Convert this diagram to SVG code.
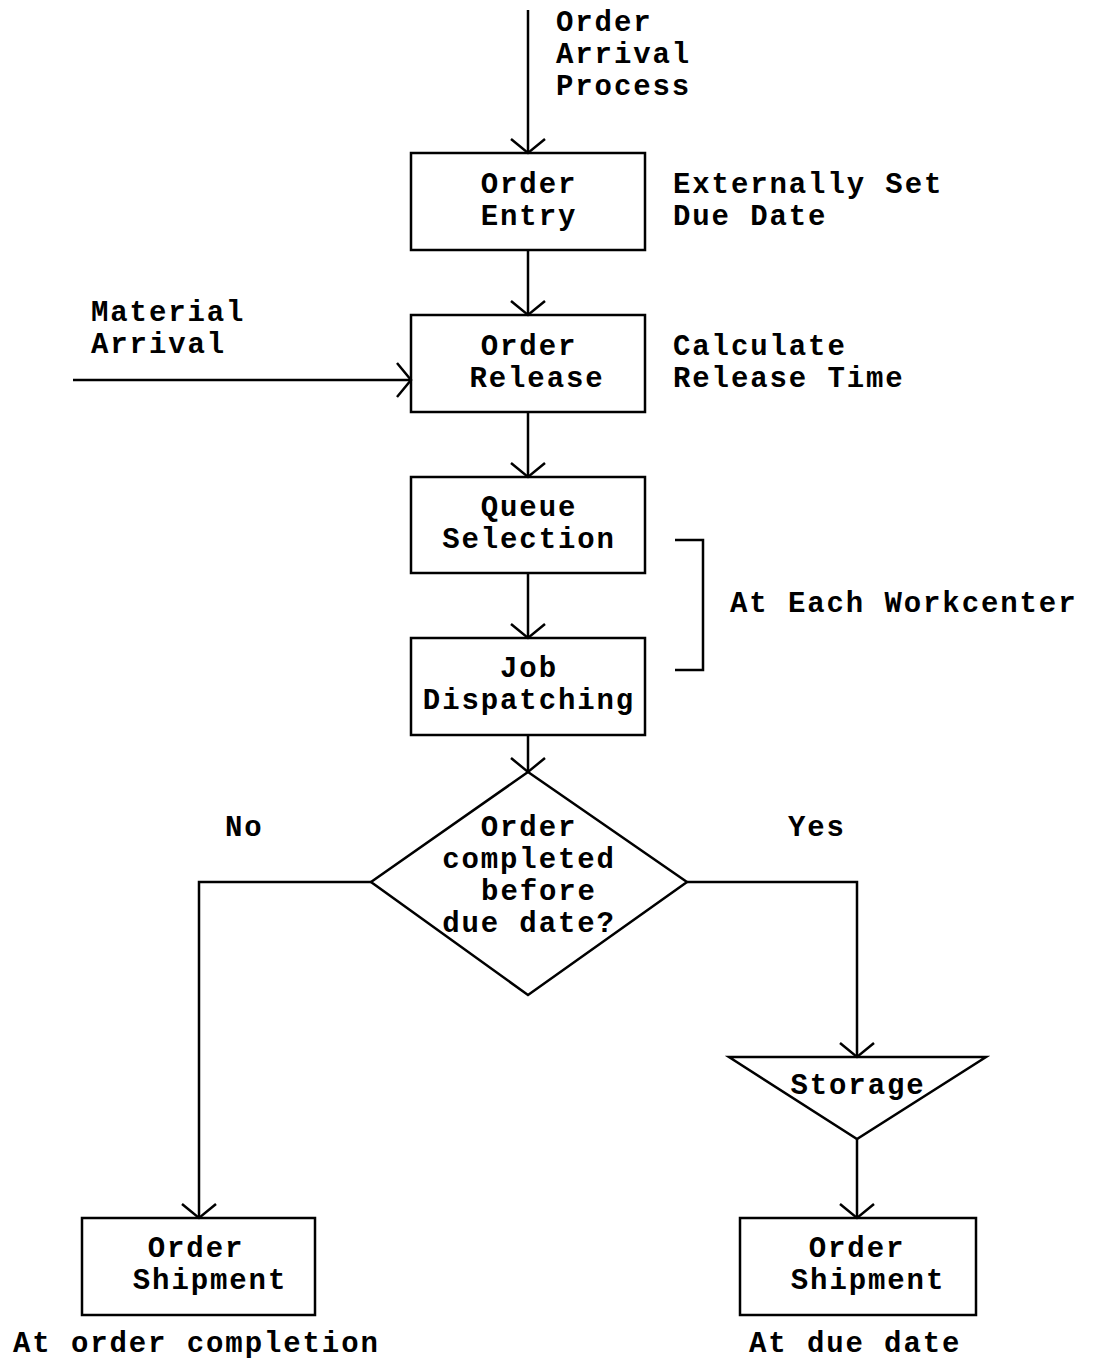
<svg xmlns="http://www.w3.org/2000/svg" width="1095" height="1359" viewBox="0 0 1095 1359">
<style>
.t{font-family:"Liberation Mono","Courier New",monospace;font-weight:bold;font-size:29px;letter-spacing:1.9px;fill:#000}
.c{text-anchor:middle}
.s{fill:none;stroke:#000;stroke-width:2.5}
</style>
<defs>
<marker id="ah" markerUnits="userSpaceOnUse" markerWidth="40" markerHeight="40" refX="0" refY="0" viewBox="-20 -20 40 40" orient="auto" overflow="visible">
<path d="M-14,-17 L0,0 L-14,17" fill="none" stroke="#000" stroke-width="2.5"/>
</marker>
</defs>
<rect width="1095" height="1359" fill="#fff"/>
<g id="connectors">
<line class="s" x1="528" y1="10" x2="528" y2="153" marker-end="url(#ah)"/>
<line class="s" x1="528" y1="250" x2="528" y2="315" marker-end="url(#ah)"/>
<line class="s" x1="73" y1="380" x2="411" y2="380" marker-end="url(#ah)"/>
<line class="s" x1="528" y1="412" x2="528" y2="477" marker-end="url(#ah)"/>
<line class="s" x1="528" y1="573" x2="528" y2="638" marker-end="url(#ah)"/>
<line class="s" x1="528" y1="735" x2="528" y2="772" marker-end="url(#ah)"/>
<polyline class="s" points="371,882 199,882 199,1218" marker-end="url(#ah)"/>
<polyline class="s" points="687,882 857,882 857,1057" marker-end="url(#ah)"/>
<line class="s" x1="857" y1="1139" x2="857" y2="1218" marker-end="url(#ah)"/>
<polyline class="s" points="675,540 703,540 703,670 675,670"/>
</g>
<g id="label-arrival">
<text class="t"><tspan x="556" y="31">Order</tspan><tspan x="556" y="63">Arrival</tspan><tspan x="556" y="95">Process</tspan></text>
</g>
<g id="order-entry">
<rect class="s" x="411" y="153" width="234" height="97"/>
<text class="t c"><tspan x="529" y="193">Order</tspan><tspan x="529" y="225">Entry</tspan></text>
</g>
<g id="label-due">
<text class="t"><tspan x="673" y="193">Externally Set</tspan><tspan x="673" y="225">Due Date</tspan></text>
</g>
<g id="label-material">
<text class="t"><tspan x="91" y="321">Material</tspan><tspan x="91" y="353">Arrival</tspan></text>
</g>
<g id="order-release">
<rect class="s" x="411" y="315" width="234" height="97"/>
<text class="t c"><tspan x="529" y="355">Order</tspan><tspan x="537" y="387">Release</tspan></text>
</g>
<g id="label-release">
<text class="t"><tspan x="673" y="355">Calculate</tspan><tspan x="673" y="387">Release Time</tspan></text>
</g>
<g id="queue-selection">
<rect class="s" x="411" y="477" width="234" height="96"/>
<text class="t c"><tspan x="529" y="516">Queue</tspan><tspan x="529" y="548">Selection</tspan></text>
</g>
<g id="job-dispatching">
<rect class="s" x="411" y="638" width="234" height="97"/>
<text class="t c"><tspan x="529" y="677">Job</tspan><tspan x="529" y="709">Dispatching</tspan></text>
</g>
<g id="label-workcenter">
<text class="t" x="730" y="612">At Each Workcenter</text>
</g>
<g id="decision">
<polygon class="s" points="528,772 687,882 528,995 371,882"/>
<text class="t c"><tspan x="529" y="836">Order</tspan><tspan x="529" y="868">completed</tspan><tspan x="539" y="900">before</tspan><tspan x="529" y="932">due date?</tspan></text>
</g>
<g id="label-no"><text class="t" x="225" y="836">No</text></g>
<g id="label-yes"><text class="t" x="788" y="836">Yes</text></g>
<g id="storage">
<polygon class="s" points="729,1057 986,1057 857,1139"/>
<text class="t c" x="858" y="1094">Storage</text>
</g>
<g id="shipment-left">
<rect class="s" x="82" y="1218" width="233" height="97"/>
<text class="t c"><tspan x="196" y="1257">Order</tspan><tspan x="210" y="1289">Shipment</tspan></text>
</g>
<g id="shipment-right">
<rect class="s" x="740" y="1218" width="236" height="97"/>
<text class="t c"><tspan x="857" y="1257">Order</tspan><tspan x="868" y="1289">Shipment</tspan></text>
</g>
<g id="label-completion"><text class="t" x="13" y="1352">At order completion</text></g>
<g id="label-duedate"><text class="t" x="749" y="1352">At due date</text></g>
</svg>
